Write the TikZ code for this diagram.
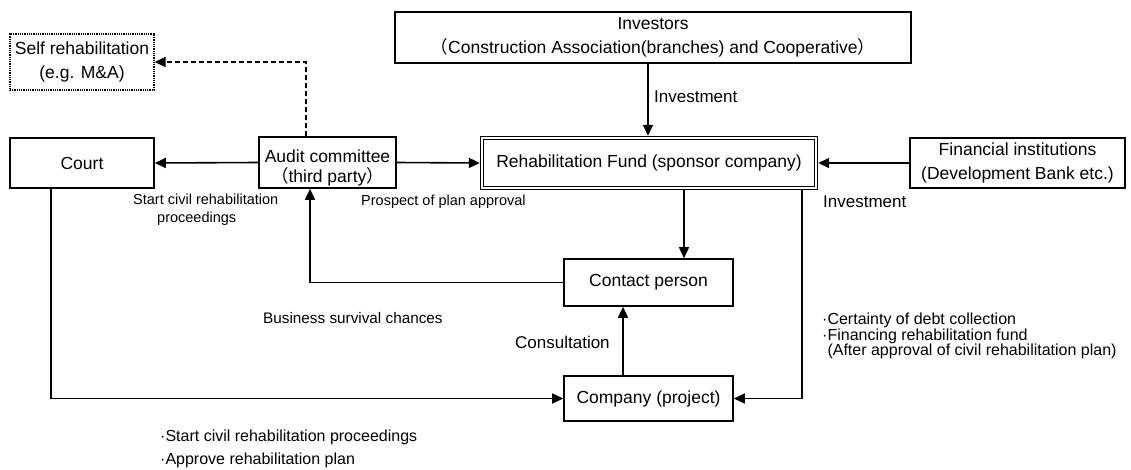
\documentclass[tikz,border=0pt]{standalone}
\usepackage{fontspec}
\setmainfont{Liberation Sans}
\newfontfamily\cjk{Noto Sans CJK JP}
\usetikzlibrary{arrows.meta}
\begin{document}
\begin{tikzpicture}[x=1pt,y=-1pt,
  box/.style={draw, line width=1.6pt, inner sep=0pt, align=center, font=\fontsize{17.5}{22}\selectfont},
  fundbox/.style={draw, double, double distance=2pt, line width=1.2pt, outer sep=2.2pt, inner sep=0pt, align=center, font=\fontsize{17.5}{22}\selectfont},
  dotbox/.style={draw, line width=1.3pt, dash pattern=on 1pt off 0.8pt, inner sep=0pt, align=center, font=\fontsize{17.5}{24}\selectfont},
  arr/.style={line width=1.6pt, -{Triangle[length=11pt,width=10pt]}},
  darr/.style={line width=1.6pt, dash pattern=on 5pt off 3pt, -{Triangle[length=11pt,width=10pt]}},
  big/.style={inner sep=0pt, font=\fontsize{17}{20}\selectfont},
  small/.style={inner sep=0pt, font=\fontsize{14.5}{18}\selectfont},
  mid/.style={inner sep=0pt, align=left, font=\fontsize{16}{15.5}\selectfont},
]
\useasboundingbox (0,0) rectangle (1131,470);

% boxes
\node[dotbox, minimum width=144pt, minimum height=56pt] (self) at (82,62) {Self rehabilitation\\(e.g. M\&A)};
\node[box, minimum width=516pt, minimum height=51pt, font=\fontsize{17.5}{24}\selectfont] (investors) at (653,37.5)
  {Investors\\{\cjk （}Construction Association(branches) and Cooperative{\cjk ）}};
\node[box, minimum width=144pt, minimum height=50pt] (court) at (82,163) {Court};
\node[box, minimum width=137pt, minimum height=51pt, font=\fontsize{17.5}{20}\selectfont, text height=44pt] (audit) at (327.5,162.5)
  {Audit committee\\{\cjk （}third party{\cjk ）}};
\node[fundbox, minimum width=334pt, minimum height=50pt] (fund) at (649,163) {Rehabilitation Fund (sponsor company)};
\node[box, minimum width=215pt, minimum height=50pt, font=\fontsize{17.5}{24}\selectfont] (fin) at (1017.5,163)
  {Financial institutions\\(Development Bank etc.)};
\node[box, minimum width=169pt, minimum height=47pt] (contact) at (648.5,282.5) {Contact person};
\node[box, minimum width=169pt, minimum height=45pt] (company) at (648.5,398.5) {Company (project)};

% column positions of connectors
\coordinate (xinv) at (648,0);
\coordinate (xfc) at (684,0);
\coordinate (xcons) at (623,0);
\coordinate (xright) at (802,0);
\coordinate (xaud) at (310,0);
\coordinate (xdash) at (306,0);
\coordinate (xcourt) at (51,0);

% connectors
\draw[arr] (audit.west) -- (court.east);
\draw[arr] (audit.east) -- (fund.west);
\draw[arr] (fin.west) -- (fund.east);
\draw[arr] (investors.south -| xinv) -- (fund.north -| xinv);
\draw[arr] (fund.south -| xfc) -- (contact.north -| xfc);
\draw[arr] (company.north -| xcons) -- (contact.south -| xcons);
\draw[arr] (contact.west) -- (contact.west -| xaud) -- (audit.south -| xaud);
\draw[arr] (court.south -| xcourt) -- (company.west -| xcourt) -- (company.west);
\draw[arr] (fund.south -| xright) -- (company.east -| xright) -- (company.east);
\draw[darr] (audit.north -| xdash) -- (self.east -| xdash) -- (self.east);

% labels
\node[big, anchor=west] (linv1) at (654,97) {Investment};
\node[big, anchor=west] (linv2) at (823,202) {Investment};
\node[small, anchor=west, align=left] (lstart) at (133,210) {Start civil rehabilitation\\\hspace*{24pt}proceedings};
\node[small, anchor=west] (lprosp) at (361,202) {Prospect of plan approval};
\node[inner sep=0pt, font=\fontsize{15.3}{18}\selectfont, anchor=west] (lbus) at (263,318) {Business survival chances};
\node[big, anchor=west] (lcons) at (515,342) {Consultation};
\node[mid, anchor=west] (lright) at (822,336) {·Certainty of debt collection\\·Financing rehabilitation fund\\\phantom{·}(After approval of civil rehabilitation plan)};
\node[inner sep=0pt, align=left, font=\fontsize{16}{23}\selectfont, anchor=west] (lbottom) at (160,448.5) {·Start civil rehabilitation proceedings\\·Approve rehabilitation plan};
\end{tikzpicture}
\end{document}
